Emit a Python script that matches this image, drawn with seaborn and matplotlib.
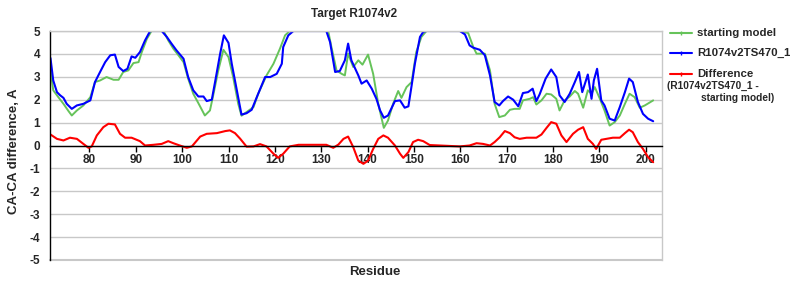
import matplotlib
matplotlib.use('Agg')
import matplotlib.pyplot as plt
import seaborn as sns
import pandas as pd
from matplotlib.lines import Line2D

sns.set_theme(style='white')
plt.rcParams['font.family'] = ['Liberation Sans', 'DejaVu Sans']
plt.rcParams['axes.unicode_minus'] = True

title = "Target R1074v2"
xlabel = "Residue"
ylabel = "CA-CA difference, A"
labels = ["starting model", "R1074v2TS470_1", "Difference"]
diff_note = ["(R1074v2TS470_1 -", "starting model)"]
xticks = [80, 90, 100, 110, 120, 130, 140, 150, 160, 170, 180, 190, 200]
yticks = [-5, -4, -3, -2, -1, 0, 1, 2, 3, 4, 5]

model_res = [71.6, 72.2, 73.0, 73.7, 74.4, 75.1, 76.2, 77.3, 78.7, 80.2, 81.2, 82.3, 83.4, 84.5, 85.5,
             86.3, 87.3, 88.2, 89.1, 89.9, 90.9, 92.0, 93.1, 95.6, 96.7, 97.7, 98.8, 100.3, 101.3,
             102.4, 103.5, 104.6, 105.3, 106.4, 107.1, 108.2, 109.0, 110.0, 110.7, 111.8, 112.8,
             113.9, 115.0, 116.1, 117.9, 119.0, 120.4, 121.5, 121.8, 122.9, 124.0, 131.1, 131.9,
             133.0, 134.0, 135.1, 135.8, 136.5, 138.0, 138.7, 139.8, 140.9, 141.9, 142.7, 143.5,
             144.4, 145.9, 147.0, 148.0, 148.8, 149.5, 150.2, 151.3, 152.0, 152.7, 159.9, 161.0,
             162.0, 162.8, 164.2, 165.3, 166.4, 167.4, 168.4, 169.2, 170.3, 171.4, 172.5, 173.5,
             174.6, 175.6, 176.4, 177.1, 178.4, 179.6, 180.7, 181.4, 182.5, 183.6, 184.7, 185.6,
             186.3, 187.5, 188.3, 188.8, 189.5, 190.4, 191.1, 192.2, 193.3, 194.4, 195.5, 196.4,
             197.2, 198.3, 199.4, 200.5, 201.6]
model_val = [3.82, 2.84, 2.33, 2.19, 2.08, 1.82, 1.60, 1.75, 1.82, 1.97, 2.77, 3.21, 3.64, 3.94, 3.97,
             3.43, 3.25, 3.35, 3.89, 3.83, 4.08, 4.59, 5.0, 5.0, 4.74, 4.45, 4.15, 3.79, 2.99,
             2.41, 2.14, 2.14, 1.94, 2.00, 2.77, 4.01, 4.81, 4.48, 3.57, 2.41, 1.35,
             1.41, 1.56, 2.11, 2.99, 2.99, 3.13, 3.57, 4.30, 4.81, 5.0, 5.0, 4.52,
             3.21, 3.25, 3.72, 4.45, 3.72, 3.06, 2.70, 2.84, 2.48, 2.04, 1.53, 1.21,
             1.31, 1.94, 1.97, 1.65, 1.71, 2.62, 3.57, 4.74, 4.96, 5.0, 5.0, 4.85,
             4.37, 4.27, 4.18, 3.94, 3.06, 1.90, 1.75, 1.94, 2.14, 2.00, 1.71, 2.29,
             2.33, 2.48, 1.94, 2.23, 2.92, 3.32, 2.99, 2.19, 1.90, 2.26, 2.77, 3.21,
             2.33, 3.10, 2.04, 2.84, 3.35, 1.97, 1.75, 1.17, 1.09, 1.68, 2.33, 2.92,
             2.77, 1.90, 1.38, 1.17, 1.06]

start_res = [71.6, 72.2, 73.3, 74.4, 75.5, 76.2, 77.3, 78.7, 80.2, 81.2, 82.3, 83.7, 85.2, 86.3, 87.3,
             88.4, 89.5, 90.6, 91.3, 92.4, 93.4, 96.0, 97.0, 98.1, 99.2, 100.3, 101.3, 102.4,
             103.5, 104.9, 106.0, 106.7, 107.8, 108.9, 110.0, 111.0, 112.1, 112.8, 113.9, 115.4,
             116.4, 118.2, 119.7, 121.1, 122.2, 123.2, 131.5, 132.2, 133.3, 134.4, 135.1, 135.8,
             136.9, 138.0, 138.9, 140.1, 141.2, 142.3, 143.5, 144.4, 145.5, 146.6, 147.3, 148.4,
             149.5, 150.5, 151.6, 152.7, 159.9, 161.7, 162.8, 163.5, 165.3, 166.4, 167.4, 168.4,
             169.6, 170.7, 171.7, 172.8, 173.5, 175.0, 175.7, 176.4, 177.5, 178.6, 179.6, 180.7,
             181.4, 182.5, 183.6, 184.7, 185.4, 186.5, 187.5, 188.3, 189.0, 190.1, 191.1, 192.2,
             193.3, 194.4, 195.5, 196.5, 197.6, 198.7, 199.8, 201.6]
start_val = [3.31, 2.41, 2.11, 1.82, 1.50, 1.31, 1.53, 1.75, 2.11, 2.77, 2.84, 2.99, 2.87, 2.87, 3.21,
             3.28, 3.60, 3.64, 4.08, 4.66, 5.0, 5.0, 4.59, 4.23, 3.94, 3.64, 2.92, 2.26,
             1.85, 1.31, 1.53, 2.19, 3.28, 4.18, 3.86, 2.99, 1.82, 1.30, 1.46, 1.68,
             2.26, 3.06, 3.57, 4.23, 4.81, 5.0, 5.0, 4.30, 3.28, 3.13, 3.06, 4.01,
             3.43, 3.72, 3.53, 3.97, 3.13, 1.82, 0.77, 1.09, 1.82, 2.38, 2.08, 2.55,
             2.77, 4.08, 4.74, 5.0, 5.0, 4.91, 4.30, 4.01, 4.01, 3.28, 1.82, 1.24,
             1.31, 1.56, 1.60, 1.60, 1.97, 2.04, 2.11, 1.79, 1.97, 2.26, 2.23, 2.04,
             1.53, 1.97, 2.14, 2.38, 2.26, 1.65, 2.41, 2.26, 2.55, 2.04, 1.53, 0.87,
             1.02, 1.31, 1.82, 2.26, 2.11, 1.65, 1.75, 1.97]

diff_res = [71.6, 73.0, 74.4, 75.8, 77.3, 78.7, 79.8, 80.5, 81.6, 83.0, 84.1, 85.5, 86.6, 87.7, 89.1,
            90.9, 92.0, 93.8, 95.6, 97.0, 98.1, 99.5, 101.0, 102.1, 103.9, 105.3, 107.5, 109.3,
            110.3, 111.4, 112.5, 113.9, 115.4, 116.8, 118.2, 119.7, 120.7, 121.8, 123.2, 125.1,
            131.1, 132.6, 133.7, 134.8, 135.8, 136.9, 138.0, 139.1, 140.1, 141.2, 142.3, 143.4,
            144.4, 145.9, 147.0, 147.7, 148.8, 149.8, 150.9, 152.0, 153.4, 159.9, 162.0, 163.5,
            164.9, 166.4, 167.4, 168.5, 169.6, 170.7, 171.7, 172.8, 174.3, 176.4, 177.5, 178.6,
            179.6, 180.7, 181.8, 182.9, 184.3, 185.4, 186.5, 187.5, 188.6, 189.3, 190.4, 191.5,
            192.9, 194.4, 195.5, 196.4, 197.2, 198.3, 199.4, 200.5, 201.6]
diff_val = [0.48, 0.29, 0.22, 0.34, 0.29, 0.07, -0.10, -0.04, 0.44, 0.80, 0.95, 0.92, 0.51, 0.34, 0.34,
            0.19, 0.0, 0.03, 0.07, 0.19, 0.10, 0.0, -0.10, -0.04, 0.39, 0.51, 0.54, 0.63,
            0.66, 0.54, 0.30, -0.05, -0.04, 0.06, -0.04, -0.36, -0.54, -0.36, -0.04, 0.03,
            0.03, -0.10, 0.04, 0.29, 0.39, -0.07, -0.66, -0.80, -0.66, -0.15, 0.29, 0.44,
            0.34, 0.0, -0.36, -0.54, -0.29, 0.15, 0.25, 0.19, 0.02, -0.04, 0.0, 0.10,
            0.07, 0.0, 0.15, 0.36, 0.63, 0.54, 0.36, 0.29, 0.34, 0.34, 0.48, 0.77,
            1.02, 0.95, 0.44, 0.15, 0.51, 0.69, 0.80, 0.29, 0.07, -0.15, 0.25, 0.29,
            0.34, 0.34, 0.54, 0.69, 0.58, 0.15, -0.15, -0.51, -0.73]

green = '#66c35a'
blue = '#0000ff'
red = '#ff0000'
grid_c = '#c8c8c8'

fig = plt.figure(figsize=(8, 3), dpi=100)
ax = fig.add_axes([50 / 800, 40 / 300, 612 / 800, 229 / 300])

sns.lineplot(x=start_res, y=start_val, ax=ax, color=green, lw=1.4, sort=False, estimator=None)
sns.lineplot(x=model_res, y=model_val, ax=ax, color=blue, lw=1.5, sort=False, estimator=None)
sns.lineplot(x=diff_res, y=diff_val, ax=ax, color=red, lw=1.5, sort=False, estimator=None)

ax.set_xlim(71.5, 203.5)
ax.set_ylim(-5, 5)
ax.set_xticks(xticks)
ax.set_yticks(yticks)
ax.set_yticklabels([str(v) for v in yticks])
ax.yaxis.grid(True, color=grid_c, lw=1)
ax.xaxis.grid(False)
ax.set_axisbelow(True)
ax.spines['bottom'].set_position(('data', 0))
ax.spines['bottom'].set_color('black')
ax.spines['bottom'].set_linewidth(1)
ax.spines['left'].set_color('black')
ax.spines['left'].set_linewidth(1)
for s in ('top', 'right'):
    ax.spines[s].set_color(grid_c)
    ax.spines[s].set_linewidth(1)
ax.axhline(-5, color=grid_c, lw=1.5, clip_on=False, zorder=0)
ax.tick_params(axis='x', direction='out', length=4, width=1, color='black', pad=2,
               labelsize=8.5, bottom=True)
ax.tick_params(axis='y', direction='out', length=0, width=1, color='black', pad=7,
               labelsize=8.5, left=True)
for t in ax.get_xticklabels() + ax.get_yticklabels():
    t.set_fontweight('bold')
ax.set_xlabel('')
ax.set_ylabel('')

fig.text(354 / 800, 1 - 14 / 300, title, ha='center', va='center', fontsize=8.5, fontweight='bold')
fig.text(375 / 800, 1 - 272 / 300, xlabel, ha='center', va='center', fontsize=9.5, fontweight='bold')
fig.text(14 / 800, 1 - 151 / 300, ylabel, ha='center', va='center', rotation=90,
         fontsize=9.5, fontweight='bold')

# legend
leg_y = [33, 53, 74]
for c, lab, y in zip([green, blue, red], labels, leg_y):
    yy = 1 - y / 300
    fig.add_artist(Line2D([670 / 800, 692 / 800], [yy, yy], color=c, lw=1.5,
                          transform=fig.transFigure))
    fig.add_artist(Line2D([681 / 800], [yy], color=c, marker='|', ms=3, mew=1,
                          transform=fig.transFigure))
    fig.text(697 / 800, yy, lab, ha='left', va='center', fontsize=8.2, fontweight='bold')
fig.text(667 / 800, 1 - 86 / 300, diff_note[0], ha='left', va='center', fontsize=7.3, fontweight='bold')
fig.text(701 / 800, 1 - 98 / 300, diff_note[1], ha='left', va='center', fontsize=7.3, fontweight='bold')

fig.savefig('out.png', dpi=100)
